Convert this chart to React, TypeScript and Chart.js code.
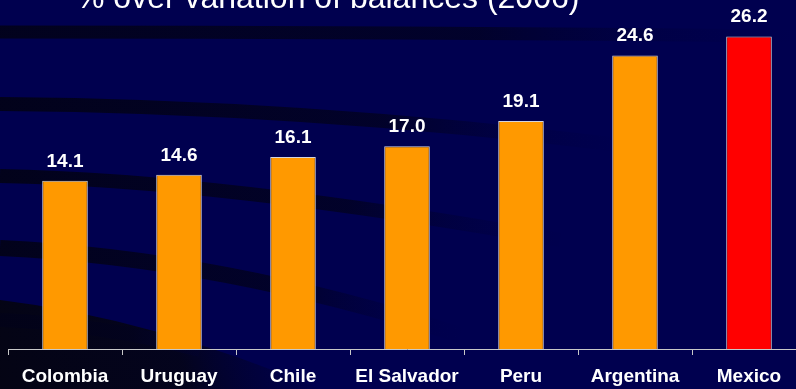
import React, { useEffect, useRef } from "react";
import { Chart, registerables } from "chart.js";

Chart.register(...registerables);

const categories = ["Colombia", "Uruguay", "Chile", "El Salvador", "Peru", "Argentina", "Mexico"];
const values = [14.1, 14.6, 16.1, 17.0, 19.1, 24.6, 26.2];
const barColors = ["#FF9900", "#FF9900", "#FF9900", "#FF9900", "#FF9900", "#FF9900", "#FF0000"];
const titleText = "% over variation of balances (2006)";

const FONT = "'Liberation Sans', Arial, Helvetica, sans-serif";

const backgroundPlugin = {
  id: "bgDecor",
  beforeDraw(chart: any) {
    const ctx = chart.ctx as CanvasRenderingContext2D;
    const w = chart.width;
    const h = chart.height;
    ctx.save();
    ctx.fillStyle = "#00004F";
    ctx.fillRect(0, 0, w, h);

    // bottom-left dark area
    const g0 = ctx.createLinearGradient(0, 389, 320, 300);
    g0.addColorStop(0, "rgba(4,4,20,1)");
    g0.addColorStop(0.55, "rgba(4,4,24,0.9)");
    g0.addColorStop(1, "rgba(0,0,60,0)");
    ctx.fillStyle = g0;
    ctx.beginPath();
    ctx.moveTo(0, 300);
    ctx.quadraticCurveTo(150, 318, 320, 389);
    ctx.lineTo(0, 389);
    ctx.closePath();
    ctx.fill();

    const band = (pts: number[][], width: number, fadeX: number, a0: number) => {
      const g = ctx.createLinearGradient(0, 0, fadeX, 0);
      g.addColorStop(0, `rgba(2,2,24,${a0})`);
      g.addColorStop(0.6, `rgba(2,2,30,${a0 * 0.8})`);
      g.addColorStop(1, "rgba(0,0,70,0)");
      ctx.strokeStyle = g;
      ctx.lineWidth = width;
      ctx.lineCap = "butt";
      ctx.beginPath();
      ctx.moveTo(pts[0][0], pts[0][1]);
      for (let i = 1; i + 1 < pts.length; i += 2) {
        ctx.quadraticCurveTo(pts[i][0], pts[i][1], pts[i + 1][0], pts[i + 1][1]);
      }
      ctx.stroke();
    };
    band([[0, 32], [400, 32], [800, 36]], 13, 800, 0.9);
    band([[0, 104], [300, 106], [620, 145]], 14, 640, 0.95);
    band([[0, 176], [220, 180], [560, 240]], 14, 580, 0.95);
    band([[0, 248], [220, 258], [460, 335]], 16, 470, 0.95);
    band([[0, 320], [100, 324], [200, 350]], 14, 220, 0.9);

    // title
    ctx.fillStyle = "#FFFFFF";
    ctx.font = `32px ${FONT}`;
    ctx.textBaseline = "alphabetic";
    ctx.textAlign = "left";
    ctx.fillText(titleText, 76, 8);
    ctx.restore();
  },
};

const valueLabelPlugin = {
  id: "valueLabels",
  afterDatasetsDraw(chart: any) {
    const ctx = chart.ctx as CanvasRenderingContext2D;
    const meta = chart.getDatasetMeta(0);
    ctx.save();
    ctx.fillStyle = "#FFFFFF";
    ctx.font = `bold 19px ${FONT}`;
    ctx.textAlign = "center";
    ctx.textBaseline = "alphabetic";
    meta.data.forEach((bar: any, i: number) => {
      ctx.fillText(values[i].toFixed(1), bar.x, bar.y - 14);
    });
    ctx.restore();
  },
};

export default function App() {
  const canvasRef = useRef<HTMLCanvasElement | null>(null);

  useEffect(() => {
    if (!canvasRef.current) return;
    const chart = new Chart(canvasRef.current, {
      type: "bar",
      data: {
        labels: categories,
        datasets: [
          {
            data: values,
            backgroundColor: barColors,
            borderColor: "rgba(235,235,235,0.9)",
            borderWidth: 1,
            barPercentage: 0.4,
            categoryPercentage: 1,
          },
        ],
      },
      options: {
        animation: false,
        responsive: false,
        maintainAspectRatio: false,
        layout: { padding: { left: 8, right: 6, top: 3, bottom: 0 } },
        plugins: {
          legend: { display: false },
          title: { display: false },
          tooltip: { enabled: false },
        },
        scales: {
          x: {
            offset: true,
            grid: {
              offset: true,
              drawOnChartArea: false,
              drawTicks: true,
              tickLength: 6,
              color: "#C8C8C8",
              lineWidth: 1,
            },
            border: { display: true, color: "#C8C8C8", width: 1 },
            ticks: {
              color: "#FFFFFF",
              font: { family: FONT, size: 19, weight: "bold" },
              padding: 10,
              maxRotation: 0,
              autoSkip: false,
            },
            afterFit: (scale: any) => {
              scale.height = 40;
            },
          },
          y: {
            display: false,
            min: 0,
            max: 29,
          },
        },
      },
      plugins: [backgroundPlugin, valueLabelPlugin],
    });
    return () => chart.destroy();
  }, []);

  return (
    <div
      style={{
        position: "fixed",
        left: 0,
        top: 0,
        width: 796,
        height: 389,
        overflow: "hidden",
        background: "#00004F",
      }}
    >
      <canvas ref={canvasRef} width={812} height={389} style={{ display: "block", width: 812, height: 389 }} />
    </div>
  );
}
